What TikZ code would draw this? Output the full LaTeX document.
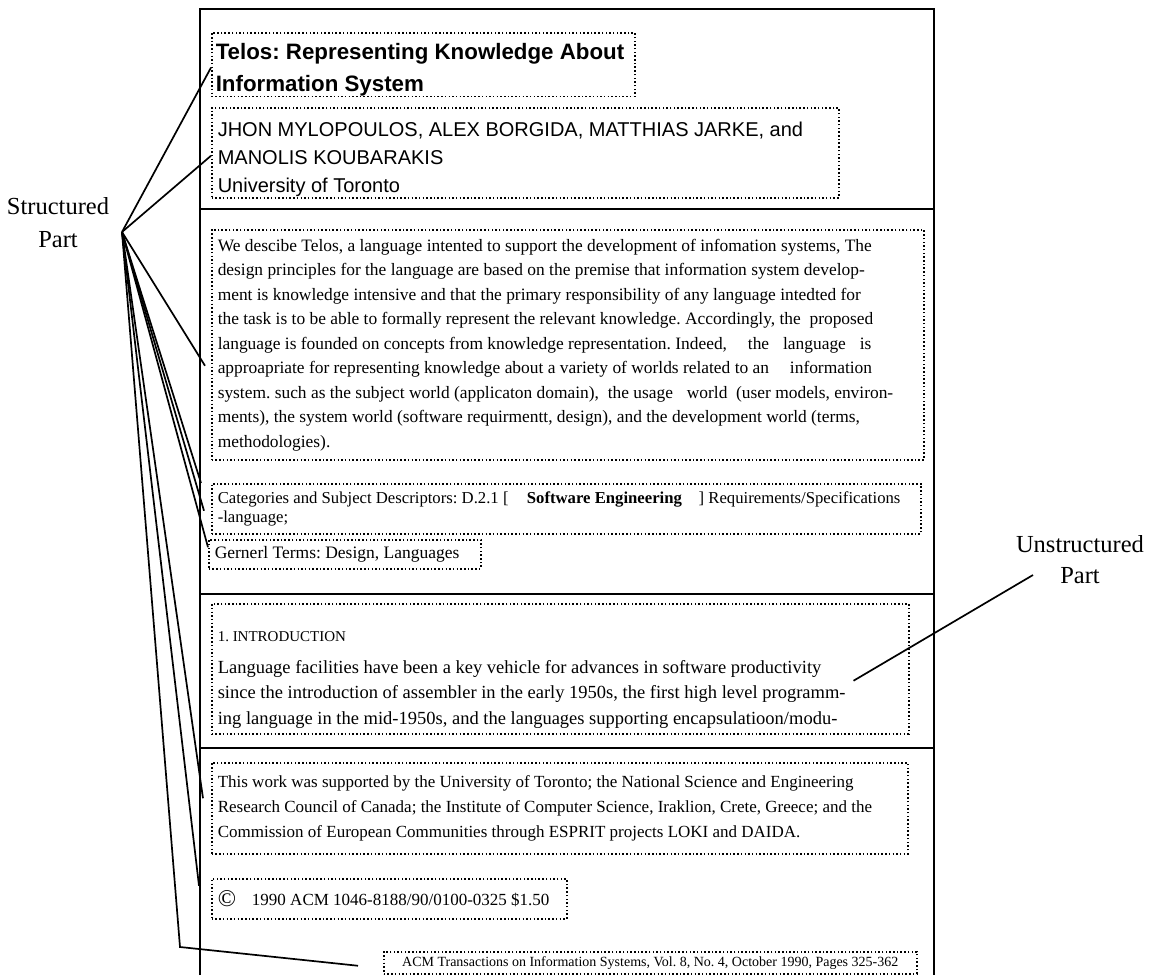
\documentclass[tikz,border=0pt]{standalone}
\usepackage{fontspec}
\setmainfont{Liberation Serif}
\newfontfamily\hv{Liberation Sans}
\usepackage{xcolor}
\usepackage{tikz}
\newcommand{\fsz}[2]{\fontsize{#1}{#2}\selectfont}
\frenchspacing

\begin{document}
\begin{tikzpicture}[x=1pt,y=-1pt,
		box/.style={draw,line width=1.5pt,dash pattern=on 1.5pt off 2.2pt,anchor=north west,inner xsep=6pt,inner ysep=0pt,align=flush left},
		conn/.style={line width=1.7pt}]
			\useasboundingbox (0,0) rectangle (1149,975);
			\draw[line width=2pt] (200,975) -- (200,9) -- (934,9) -- (934,975);
			\draw[line width=2pt] (200,209) -- (934,209) (200,594) -- (934,594) (200,748) -- (934,748);
			%
			\node[box,inner xsep=4pt,text width=415pt,minimum height=63pt,font={\hv\bfseries\fsz{22.3}{32}}] (T) at (211,32) {\rule{0pt}{27pt}Telos: Representing Knowledge About\\Information System};
			\node[box,text width=615pt,minimum height=90pt,font={\hv\fsz{20}{28}}] (N) at (211,107) {\rule{0pt}{28pt}JHON MYLOPOULOS, ALEX BORGIDA, MATTHIAS JARKE, and\\MANOLIS KOUBARAKIS\\University of Toronto};
			\node[box,text width=700pt,minimum height=230pt,font={\fsz{17.4}{24.5}}] (A) at (211,229) {We descibe Telos, a language intented to support the development of infomation systems, The\\
				design principles for the language are based on the premise that information system develop-\\
				ment is knowledge intensive and that the primary responsibility of any language intedted for\\
				the task is to be able to formally represent the relevant knowledge. Accordingly, the\ \ proposed\\
				language is founded on concepts from knowledge representation. Indeed,\hspace{1.2em}the\hspace{.8em}language\hspace{.8em}is\\
				approapriate for representing knowledge about a variety of worlds related to an\hspace{1.2em}information\\
				system. such as the subject world (applicaton domain),\ \ the usage\hspace{.8em}world\ \ (user models, environ-\\
				ments), the system world (software requirmentt, design), and the development world (terms,\\
				methodologies).};
			\node[box,text width=697pt,minimum height=50pt,font={\fsz{16.7}{19}}] (C) at (211,483) {Categories and Subject Descriptors: D.2.1 [\hspace{1.1em}\textbf{Software Engineering}\hspace{1em}] Requirements/Specifications\\-language;};
			\node[box,text width=260pt,minimum height=29pt,font={\fsz{17.5}{20}}] (G) at (208,539) {Gernerl Terms: Design, Languages};
			\node[box,text width=685pt,minimum height=130pt,font={\fsz{18.5}{25.5}}] (I) at (211,603) {{\fsz{15}{18}\rule{0pt}{32pt}1. INTRODUCTION}\\[6pt]
				Language facilities have been a key vehicle for advances in software productivity\\
				since the introduction of assembler in the early 1950s, the first high level programm-\\
				ing language in the mid-1950s, and the languages supporting encapsulatioon/modu-};
			\node[box,text width=684pt,minimum height=91pt,font={\fsz{17}{25}}] (W) at (211,762) {This work was supported by the University of Toronto; the National Science and Engineering\\
				Research Council of Canada; the Institute of Computer Science, Iraklion, Crete, Greece; and the\\
				Commission of European Communities through ESPRIT projects LOKI and DAIDA.};
			\node[box,text width=343pt,minimum height=40pt,font={\fsz{17}{20}}] (R) at (211,878) {\raisebox{-1.5pt}{\fsz{24}{24}©}\hspace{16pt}1990 ACM 1046-8188/90/0100-0325 \$1.50};
			\node[box,align=flush center,text width=521pt,minimum height=22pt,font={\fsz{14}{16}}] (F) at (383,951) {ACM Transactions on Information Systems, Vol. 8, No. 4, October 1990, Pages 325-362};
			%
			\node[align=center,font={\fsz{24.5}{33}}] (S) at (58,223) {Structured\\Part};
			\node[align=center,font={\fsz{24.5}{31}}] (U) at (1080,560) {Unstructured\\Part};
			\coordinate (S') at (122,232);
			\coordinate (U') at (1033,575);
			\coordinate (F') at (180,947);
			%
			\path[conn]
				(S') edge ([yshift=-3pt]T.west)
				(S') edge ([yshift=-3pt]N.west)
				(S') edge ([xshift=-6pt,yshift=-21pt]A.west)
				(S') edge ([xshift=-10pt]C.north west)
				(S') edge ([xshift=-7pt,yshift=-2pt]C.west)
				(S') edge ([yshift=7pt]G.west)
				(S') edge ([xshift=-8pt,yshift=10pt]W.west)
				(S') edge ([xshift=-12pt,yshift=13pt]R.west)
				(U') edge ([xshift=-56pt,yshift=-12pt]I.east);
			\draw[conn] (S') -- (F') -- ([xshift=-25pt,yshift=-3pt]F.west);
		\end{tikzpicture}
\end{document}
